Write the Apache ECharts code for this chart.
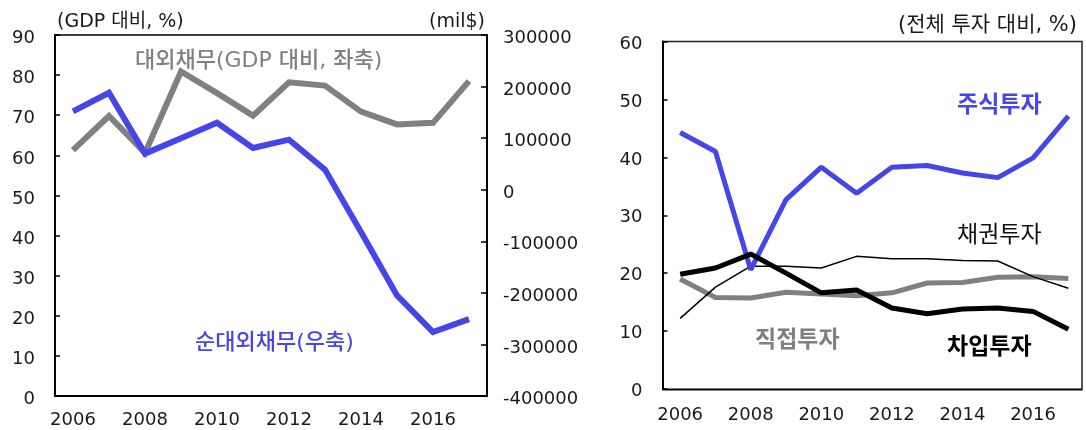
<!DOCTYPE html>
<html>
<head>
<meta charset="utf-8">
<script src="https://cdn.jsdelivr.net/npm/echarts@6/dist/echarts.min.js"></script>
<style>
  html, body { margin: 0; padding: 0; background: #fff; }
  #chart { width: 1086px; height: 430px; }
</style>
</head>
<body>
<div id="chart"></div>
<script>
// Years shared by both panels
const years = ['2006','2007','2008','2009','2010','2011','2012','2013','2014','2015','2016','2017'];

// Left panel: external debt (% of GDP, left axis) and net external debt (mil$, right axis)
const externalDebtPctGdp = [61.3, 69.8, 60.6, 80.9, 75.5, 69.9, 78.2, 77.4, 70.9, 67.7, 68.1, 78.5];
const netExternalDebt = [152000, 188000, 70000, 100000, 130000, 81000, 97000, 39000, -82000, -205000, -276000, -251000];

// Right panel: shares of total investment (%)
const equityInvest = [44.3, 41.0, 20.6, 32.7, 38.3, 33.8, 38.3, 38.6, 37.3, 36.5, 39.9, 47.1];
const bondInvest = [12.2, 17.6, 21.2, 21.2, 20.9, 22.9, 22.5, 22.5, 22.2, 22.1, 19.4, 17.4];
const loanInvest = [19.8, 20.9, 23.3, 20.0, 16.6, 17.1, 14.0, 13.0, 13.8, 14.0, 13.4, 10.3];
const directInvest = [19.0, 15.8, 15.7, 16.7, 16.4, 16.1, 16.6, 18.3, 18.4, 19.3, 19.4, 19.1];

const BLUE = '#4646E8';
const GRAY = '#808080';
const FONT = '"DejaVu Sans", "Noto Sans CJK KR", sans-serif';
const TICK_SIZE = 18;

const chart = echarts.init(document.getElementById('chart'), null, { renderer: 'canvas' });

const axisLine = { show: true, lineStyle: { color: '#000', width: 2 } };
const tickLabel = { color: '#1a1a1a', fontSize: TICK_SIZE, fontFamily: FONT };
const inTick = len => ({ show: true, inside: true, length: len, lineStyle: { color: '#000', width: 1.5 } });

// value-axis labels sit a little below their tick
function valueLabel(margin, drop) {
  return {
    margin,
    formatter: v => '{v|' + v + '}',
    rich: { v: { color: '#1a1a1a', fontSize: TICK_SIZE, fontFamily: FONT, padding: [drop, 0, 0, 0] } }
  };
}

function catAxis(gridIndex, margin, showLine) {
  return {
    type: 'category', gridIndex, data: years, boundaryGap: true,
    axisLine: showLine ? axisLine : { show: false }, axisTick: { show: false },
    axisLabel: Object.assign({ interval: 1, margin }, tickLabel),
    splitLine: { show: false }
  };
}

const option = {
  animation: false,
  textStyle: { fontFamily: FONT },
  grid: [
    { left: 55, right: 599, top: 35, bottom: 34, show: true, borderColor: '#000', borderWidth: 1.5 },
    { left: 662.5, right: 0, top: 41.5, bottom: 41, show: false }
  ],
  xAxis: [catAxis(0, 15, true), catAxis(1, 17, false)],
  yAxis: [
    {
      type: 'value', gridIndex: 0, min: 0, max: 90, interval: 10,
      name: '(GDP 대비, %)', nameLocation: 'end', nameGap: 3,
      nameTextStyle: { align: 'left', color: '#1a1a1a', fontSize: 19, fontFamily: FONT, padding: [0, 0, 0, 2] },
      axisLine, axisTick: inTick(5),
      axisLabel: valueLabel(20, 7),
      splitLine: { show: false }
    },
    {
      type: 'value', gridIndex: 0, position: 'right', min: -400000, max: 300000, interval: 100000,
      name: '(mil$)', nameLocation: 'end', nameGap: 3,
      nameTextStyle: { align: 'right', color: '#1a1a1a', fontSize: 19, fontFamily: FONT, padding: [0, 2, 0, 0] },
      axisLine, axisTick: inTick(6),
      axisLabel: valueLabel(16, 7),
      splitLine: { show: false }
    },
    {
      type: 'value', gridIndex: 1, min: 0, max: 60, interval: 10,
      axisLine, axisTick: inTick(5),
      axisLabel: valueLabel(20, 5),
      splitLine: { show: false }
    }
  ],
  series: [
    {
      name: '대외채무(GDP 대비, 좌축)', type: 'line', xAxisIndex: 0, yAxisIndex: 0,
      data: externalDebtPctGdp, showSymbol: false,
      lineStyle: { color: GRAY, width: 6, join: 'miter' }
    },
    {
      name: '순대외채무(우축)', type: 'line', xAxisIndex: 0, yAxisIndex: 1,
      data: netExternalDebt, showSymbol: false,
      lineStyle: { color: BLUE, width: 6, join: 'miter' }
    },
    {
      name: '직접투자', type: 'line', xAxisIndex: 1, yAxisIndex: 2,
      data: directInvest, showSymbol: false,
      lineStyle: { color: GRAY, width: 5 }
    },
    {
      name: '채권투자', type: 'line', xAxisIndex: 1, yAxisIndex: 2,
      data: bondInvest, showSymbol: false,
      lineStyle: { color: '#000', width: 1.5 }
    },
    {
      name: '주식투자', type: 'line', xAxisIndex: 1, yAxisIndex: 2,
      data: equityInvest, showSymbol: false,
      lineStyle: { color: BLUE, width: 5 }
    },
    {
      name: '차입투자', type: 'line', xAxisIndex: 1, yAxisIndex: 2,
      data: loanInvest, showSymbol: false,
      lineStyle: { color: '#000', width: 5 }
    }
  ],
  graphic: [
    // frame of the right panel (top, right and bottom edges)
    { type: 'polyline', z: 0, shape: { points: [[662.5, 41.5], [1082, 41.5], [1082, 389]] },
      style: { stroke: '#222', lineWidth: 1.5, fill: null } },
    { type: 'line', z: 0, shape: { x1: 662.5, y1: 389.5, x2: 1082.5, y2: 389.5 },
      style: { stroke: '#000', lineWidth: 2 } },
    { type: 'text', left: 135, top: 50, style: { text: '대외채무(GDP 대비, 좌축)', fill: GRAY, font: '500 22px ' + FONT } },
    { type: 'text', left: 195, top: 332, style: { text: '순대외채무(우축)', fill: BLUE, font: '500 22px ' + FONT } },
    { type: 'text', right: 9, top: 15, style: { text: '(전체 투자 대비, %)', fill: '#1a1a1a', font: '21px ' + FONT } },
    { type: 'text', left: 957, top: 95, style: { text: '주식투자', fill: BLUE, font: 'bold 23px ' + FONT } },
    { type: 'text', left: 957, top: 225, style: { text: '채권투자', fill: '#111', font: '23px ' + FONT } },
    { type: 'text', left: 947, top: 337, style: { text: '차입투자', fill: '#000', font: 'bold 23px ' + FONT } },
    { type: 'text', left: 755, top: 330, style: { text: '직접투자', fill: GRAY, font: 'bold 23px ' + FONT } }
  ]
};

chart.setOption(option);
</script>
</body>
</html>
